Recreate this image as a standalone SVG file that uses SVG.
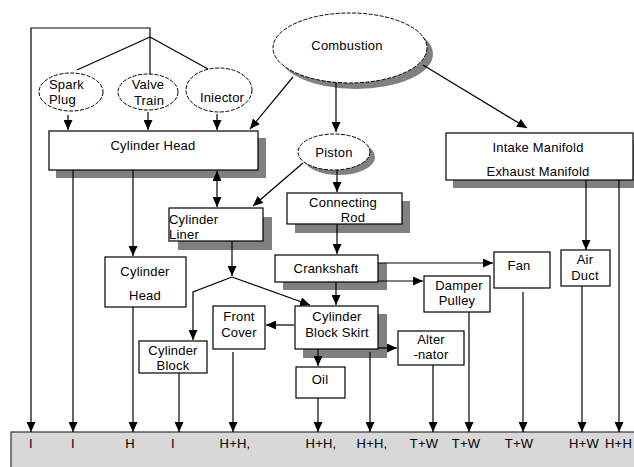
<svg xmlns="http://www.w3.org/2000/svg" width="634" height="467" viewBox="0 0 634 467">
<defs>
<marker id="ah" markerUnits="userSpaceOnUse" markerWidth="10" markerHeight="9" refX="10" refY="4.5" orient="auto">
<path d="M0,0 L10,4.5 L0,9 z" fill="#000"/>
</marker>
<marker id="ahs" markerUnits="userSpaceOnUse" markerWidth="10" markerHeight="9" refX="0" refY="4.5" orient="auto">
<path d="M10,0 L0,4.5 L10,9 z" fill="#000"/>
</marker>
</defs>
<style>
.box{fill:#fff;stroke:#000;stroke-width:1.2}
.sh{fill:#808080}
.el{fill:#fff;stroke:#000;stroke-width:1;stroke-dasharray:4 1.5}
text{font-family:"Liberation Sans",Arial,sans-serif;font-size:13px;letter-spacing:0.2px;fill:#000}
.c{text-anchor:middle}
.ln{fill:none;stroke:#000;stroke-width:1.2}
.a{marker-end:url(#ah)}
</style>
<rect width="634" height="467" fill="#fff"/>

<g id="band">
<rect x="11" y="432" width="630" height="40" fill="#d8d8d8" stroke="#333" stroke-width="1.2"/>
<text x="31" y="448" class="c">I</text>
<text x="73" y="448" class="c">I</text>
<text x="130" y="448" class="c">H</text>
<text x="173" y="448" class="c">I</text>
<text x="235" y="448" class="c">H+H,</text>
<text x="321" y="448" class="c">H+H,</text>
<text x="372" y="448" class="c">H+H,</text>
<text x="424" y="448" class="c">T+W</text>
<text x="466" y="448" class="c">T+W</text>
<text x="519" y="448" class="c">T+W</text>
<text x="584" y="448" class="c">H+W</text>
<text x="632" y="448" text-anchor="end" letter-spacing="0">H+H</text>
</g>

<g id="spark-plug">
<ellipse class="el" cx="71" cy="92" rx="32" ry="19"/>
<text x="49" y="89">Spark</text>
<text x="49" y="104">Plug</text>
</g>
<g id="valve-train">
<ellipse class="el" cx="148" cy="92" rx="30" ry="18"/>
<text x="148" y="89" class="c">Valve</text>
<text x="149" y="105" class="c">Train</text>
</g>
<g id="injector">
<ellipse class="el" cx="219" cy="90" rx="33" ry="22"/>
<text x="222" y="102" class="c">Iniector</text>
</g>
<g id="combustion">
<ellipse class="sh" cx="356" cy="54" rx="77" ry="35"/>
<ellipse class="el" cx="350" cy="48" rx="77" ry="35"/>
<text x="347" y="50" class="c">Combustion</text>
</g>
<g id="piston">
<ellipse class="sh" cx="339" cy="157" rx="36" ry="18"/>
<ellipse class="el" cx="334" cy="152" rx="36" ry="18"/>
<text x="334" y="157" class="c">Piston</text>
</g>
<g id="cylinder-head">
<rect class="sh" x="56" y="138" width="210" height="40"/>
<rect class="box" x="49" y="131" width="209" height="39"/>
<text x="153" y="150" class="c">Cylinder Head</text>
</g>
<g id="manifold">
<rect class="sh" x="453" y="140" width="187" height="48"/>
<rect class="box" x="446" y="133" width="187" height="47"/>
<text x="538" y="152" class="c">Intake Manifold</text>
<text x="538" y="176" class="c">Exhaust Manifold</text>
</g>
<g id="cylinder-liner">
<rect class="sh" x="178" y="217" width="94" height="33"/>
<rect class="box" x="169" y="208" width="94" height="33"/>
<text x="169" y="224">Cylinder</text>
<text x="169" y="239">Liner</text>
</g>
<g id="connecting-rod">
<rect class="sh" x="295" y="201" width="115" height="32"/>
<rect class="box" x="287" y="193" width="115" height="31"/>
<text x="343" y="207" class="c">Connecting</text>
<text x="353" y="222" class="c">Rod</text>
</g>
<g id="cylinder-head-2">
<rect class="box" x="105" y="257" width="81" height="50"/>
<text x="145" y="276" class="c">Cylinder</text>
<text x="145" y="300" class="c">Head</text>
</g>
<g id="crankshaft">
<rect class="sh" x="283" y="263" width="104" height="27"/>
<rect class="box" x="275" y="255" width="103" height="27"/>
<text x="326" y="273" class="c">Crankshaft</text>
</g>
<g id="fan">
<rect class="box" x="494" y="252" width="56" height="36"/>
<text x="519" y="270" class="c">Fan</text>
</g>
<g id="damper-pulley">
<rect class="box" x="424" y="276" width="66" height="36"/>
<text x="459" y="290" class="c">Damper</text>
<text x="457" y="305" class="c">Pulley</text>
</g>
<g id="air-duct">
<rect class="box" x="561" y="250" width="49" height="36"/>
<text x="585" y="264" class="c">Air</text>
<text x="585" y="280" class="c">Duct</text>
</g>
<g id="front-cover">
<rect class="box" x="213" y="306" width="52" height="43"/>
<text x="239" y="321" class="c">Front</text>
<text x="239" y="337" class="c">Cover</text>
</g>
<g id="cylinder-block-skirt">
<rect class="sh" x="303" y="314" width="84" height="44"/>
<rect class="box" x="295" y="306" width="83" height="43"/>
<text x="337" y="321" class="c">Cylinder</text>
<text x="337" y="337" class="c">Block Skirt</text>
</g>
<g id="cylinder-block">
<rect class="box" x="139" y="341" width="68" height="32"/>
<text x="173" y="355" class="c">Cylinder</text>
<text x="173" y="370" class="c">Block</text>
</g>
<g id="oil">
<rect class="box" x="296" y="367" width="49" height="31"/>
<text x="320" y="384" class="c">Oil</text>
</g>
<g id="alternator">
<rect class="box" x="398" y="331" width="66" height="34"/>
<text x="431" y="344" class="c">Alter</text>
<text x="431" y="359" class="c">-nator</text>
</g>

<g id="connectors">
<polyline class="ln a" points="150,37 150,28 31,28 31,432"/>
<line class="ln" x1="150" y1="37" x2="77" y2="70"/>
<line class="ln" x1="150" y1="37" x2="150" y2="74"/>
<line class="ln" x1="150" y1="37" x2="208" y2="69"/>
<line class="ln a" x1="68" y1="115" x2="68" y2="130"/>
<line class="ln a" x1="148" y1="112" x2="148" y2="130"/>
<line class="ln a" x1="217" y1="114" x2="217" y2="130"/>
<line class="ln a" x1="293" y1="77" x2="250" y2="129"/>
<line class="ln a" x1="336" y1="83" x2="336" y2="132"/>
<line class="ln a" x1="423" y1="65" x2="527" y2="128"/>
<line class="ln a" x1="73" y1="170" x2="73" y2="432"/>
<line class="ln a" x1="133" y1="170" x2="133" y2="256"/>
<line class="ln a" x1="217" y1="171" x2="217" y2="207" marker-start="url(#ahs)"/>
<line class="ln a" x1="303" y1="163" x2="253" y2="206"/>
<line class="ln a" x1="337" y1="170" x2="337" y2="192"/>
<line class="ln a" x1="337" y1="224" x2="337" y2="254"/>
<line class="ln a" x1="232" y1="241" x2="232" y2="276"/>
<polyline class="ln a" points="232,277 193,292 193,340"/>
<line class="ln a" x1="232" y1="277" x2="310" y2="305"/>
<line class="ln a" x1="336" y1="282" x2="336" y2="305"/>
<line class="ln a" x1="378" y1="263" x2="493" y2="263"/>
<line class="ln a" x1="378" y1="281" x2="423" y2="281"/>
<line class="ln a" x1="294" y1="325" x2="266" y2="325"/>
<line class="ln a" x1="318" y1="349" x2="318" y2="366"/>
<line class="ln a" x1="378" y1="348" x2="397" y2="348"/>
<line class="ln a" x1="370" y1="352" x2="370" y2="432"/>
<line class="ln a" x1="318" y1="398" x2="318" y2="432"/>
<line class="ln a" x1="133" y1="307" x2="133" y2="432"/>
<line class="ln a" x1="179" y1="373" x2="179" y2="432"/>
<line class="ln a" x1="233" y1="352" x2="233" y2="432"/>
<line class="ln a" x1="433" y1="365" x2="433" y2="432"/>
<line class="ln a" x1="469" y1="312" x2="469" y2="432"/>
<line class="ln a" x1="523" y1="292" x2="523" y2="432"/>
<line class="ln a" x1="586" y1="180" x2="586" y2="250"/>
<line class="ln a" x1="582" y1="286" x2="582" y2="432"/>
<line class="ln a" x1="619" y1="180" x2="619" y2="432"/>
</g>
</svg>
